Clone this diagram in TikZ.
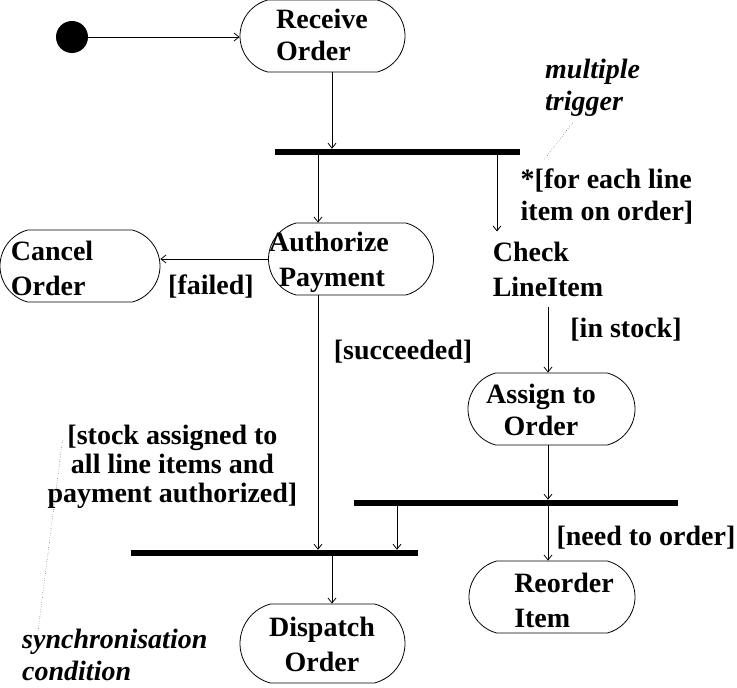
\documentclass[tikz,border=0pt]{standalone}
\usepackage{fontspec}
\setmainfont{Liberation Serif}
\usetikzlibrary{shapes.misc,arrows.meta}

\begin{document}
\begin{tikzpicture}[x=1pt,y=-1pt,
    font=\fontsize{28}{32}\selectfont\bfseries,
    >={Straight Barb[length=5pt,width=8pt]},
    activity/.style={draw, line width=0.8pt, rounded rectangle, rounded rectangle arc length=150,
        minimum width=165pt, minimum height=72pt, inner sep=0pt},
    bar/.style={fill=black, inner sep=0pt, minimum height=6pt},
    txt/.style={align=left, inner sep=0pt},
    note/.style={align=left, inner sep=0pt, font=\fontsize{28}{32}\selectfont\bfseries\itshape},
    flow/.style={->, line width=0.8pt}]
    \useasboundingbox (0,0) rectangle (737,688);

    % Initial state
    \node[circle, fill, minimum size=32pt, inner sep=0pt] (start) at (72,37) {};

    % Activities
    \node[activity] (recv) at (322.5,36) {};
    \node[txt] (recvtxt) at (322,35) {Receive\\Order};
    \node[activity, minimum width=160pt] (cancel) at (80,266) {};
    \node[txt, font=\fontsize{28}{35}\selectfont\bfseries] (canceltxt) at (52,268) {Cancel\\Order};
    \node[activity] (auth) at (351,259) {};
    \node[txt, font=\fontsize{28}{35}\selectfont\bfseries] (authtxt) at (329,262) {Authorize\\\hspace*{10pt}Payment};
    \node[txt, inner ysep=10pt, font=\fontsize{28}{35}\selectfont\bfseries] (check) at (548,269) {Check\\LineItem};
    \node[activity, minimum width=167pt] (assign) at (551.5,409) {};
    \node[txt, align=center] (assigntxt) at (541,410) {Assign to\\Order};
    \node[activity, minimum width=166pt] (reorder) at (552,597) {};
    \node[txt, font=\fontsize{28}{35}\selectfont\bfseries] (reordertxt) at (564,600) {Reorder\\Item};
    \node[activity, minimum height=79pt] (dispatch) at (322.5,643.5) {};
    \node[txt, align=center, font=\fontsize{28}{35}\selectfont\bfseries] (dispatchtxt) at (322,644) {Dispatch\\Order};

    % Synchronisation bars
    \node[bar, minimum width=245pt] (fork) at (397.5,152) {};
    \node[bar, minimum width=324pt] (split) at (516,503) {};
    \node[bar, minimum width=287pt] (join) at (274.5,553) {};

    % Columns of the vertical flows
    \coordinate (colA) at (318,0);
    \coordinate (colB) at (332,0);
    \coordinate (colC) at (497,0);
    \coordinate (colD) at (548,0);
    \coordinate (colE) at (397,0);

    % Flows
    \draw[flow] (start) -- (start -| recv.west);
    \draw[flow] (colB |- recv.south) -- (colB |- fork.north);
    \draw[flow] (colA |- fork.south) -- (colA |- auth.north);
    \draw[flow] (colC |- fork.south) -- (colC |- check.north);
    \draw[flow] (auth.west) -- (cancel.east |- auth.west);
    \draw[flow] (colA |- auth.south) -- (colA |- join.north);
    \draw[flow] (colD |- check.south) -- (colD |- assign.north);
    \draw[flow] (colD |- assign.south) -- (colD |- split.north);
    \draw[flow] (colE |- split.south) -- (colE |- join.north);
    \draw[flow] (colD |- split.south) -- (colD |- reorder.north);
    \draw[flow] (colB |- join.south) -- (colB |- dispatch.north);

    % Guards
    \node[txt] (failed) at (211,287) {[failed]};
    \node[txt] (succeeded) at (403,352) {[succeeded]};
    \node[txt] (instock) at (626,330) {[in stock]};
    \node[txt] (foreach) at (607,197) {*[for each line\\item on order]};
    \node[txt] (needorder) at (646,538) {[need to order]};
    \node[txt, align=center, font=\fontsize{28}{29}\selectfont\bfseries] (syncguard) at (172.5,467)
        {[stock assigned to\\all line items and\\payment authorized]};

    % Notes
    \node[note, anchor=west] (multi) at (545,88) {multiple\\trigger};
    \node[note, anchor=west] (sync) at (22,655) {synchronisation\\condition};
    \draw[dotted] ([shift={(-20pt,-6pt)}]multi.south) -- ([shift={(24pt,10pt)}]foreach.north west);
    \draw[dotted] ([shift={(15pt,-15pt)}]syncguard.north west) -- ([shift={(16pt,-2pt)}]sync.north west);
\end{tikzpicture}
\end{document}
